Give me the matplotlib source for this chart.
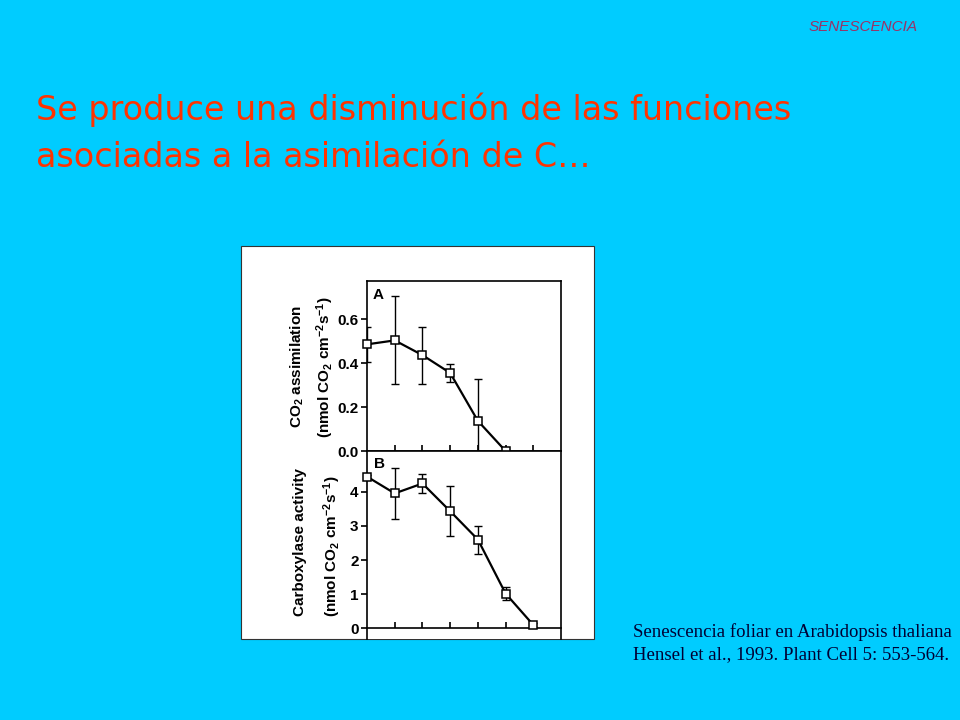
import numpy as np
import matplotlib
matplotlib.use("Agg")
import matplotlib.pyplot as plt
from matplotlib.patches import Rectangle

# ---- data ----
days_a = [0, 1, 2, 3, 4, 5]
co2_assim = [0.485, 0.503, 0.436, 0.355, 0.137, 0.0]
co2_err = [0.08, 0.20, 0.13, 0.04, 0.19, 0.0]

days_b = [0, 1, 2, 3, 4, 5, 6]
carbox = [4.44, 3.95, 4.24, 3.43, 2.60, 1.02, 0.10]
carbox_err = [0.05, 0.75, 0.27, 0.73, 0.41, 0.18, 0.05]

yticks_a = [0.0, 0.2, 0.4, 0.6]
yticks_b = [0, 1, 2, 3, 4]

BG = "#00CCFF"
TITLE_COL = "#FF3300"

plt.rcParams["mathtext.fontset"] = "custom"
plt.rcParams["mathtext.rm"] = "Liberation Sans:bold"
plt.rcParams["mathtext.bf"] = "Liberation Sans:bold"
plt.rcParams["mathtext.default"] = "bf"

fig = plt.figure(figsize=(9.6, 7.2), dpi=100, facecolor=BG)

# slide texts
fig.text(0.956, 0.962, "SENESCENCIA", ha="right", va="center", fontsize=11,
         style="italic", family="Liberation Sans", color="#993366")
fig.text(0.038, 0.833, "Se produce una disminución de las funciones",
         fontsize=24, color=TITLE_COL, family="DejaVu Sans", va="baseline")
fig.text(0.038, 0.768, "asociadas a la asimilación de C…",
         fontsize=24, color=TITLE_COL, family="DejaVu Sans", va="baseline")
fig.text(0.659, 0.1153, "Senescencia foliar en Arabidopsis thaliana",
         fontsize=13.5, family="Liberation Serif", color="#000033", va="baseline")
fig.text(0.659, 0.0847, "Hensel et al., 1993. Plant Cell 5: 553-564.",
         fontsize=13.5, family="Liberation Serif", color="#000033", va="baseline")

# white panel holding the scanned figure
fig.patches.append(Rectangle((0.251, 0.1125), 0.3677, 0.5458, transform=fig.transFigure,
                             facecolor="white", edgecolor="#333333", linewidth=0.8,
                             zorder=-1))

def style_axes(ax, yticks, ylim, fmt):
    ax.set_facecolor("white")
    ax.set_xlim(0, 7)
    ax.set_ylim(*ylim)
    ax.set_xticks([1, 2, 3, 4, 5, 6])
    ax.set_xticklabels([])
    ax.tick_params(axis="x", direction="in", length=4, width=1.2)
    ax.set_yticks(yticks)
    ax.set_yticklabels([fmt.format(v) for v in yticks], fontsize=11,
                       fontweight="bold", family="Liberation Sans")
    ax.tick_params(axis="y", direction="out", length=4, width=1.2, pad=2)
    for s in ax.spines.values():
        s.set_linewidth(1.2)

def draw_series(ax, x, y, err):
    ax.errorbar(x, y, yerr=err, fmt="none", ecolor="black", elinewidth=1.0,
                capsize=3, capthick=1.0)
    ax.plot(x, y, color="black", lw=1.6, marker="s", markersize=6,
            markerfacecolor="white", markeredgecolor="black",
            markeredgewidth=1.1, clip_on=False, zorder=5)

ax_a = fig.add_axes([0.3823, 0.3736, 0.2021, 0.2361])
draw_series(ax_a, days_a, co2_assim, co2_err)
style_axes(ax_a, yticks_a, (0, 0.773), "{:.1f}")
ax_a.text(0.03, 0.915, "A", transform=ax_a.transAxes, fontsize=11,
          fontweight="bold", family="Liberation Sans", va="center")

ax_b = fig.add_axes([0.3823, 0.1125, 0.2021, 0.2611])
draw_series(ax_b, days_b, carbox, carbox_err)
style_axes(ax_b, yticks_b, (-0.31, 5.19), "{:d}")
ax_b.spines["bottom"].set_position(("data", 0))
ax_b.text(0.035, 0.93, "B", transform=ax_b.transAxes, fontsize=11,
          fontweight="bold", family="Liberation Sans", va="center")

# y labels (two lines each)
lab = dict(rotation=90, ha="center", va="center", fontsize=11,
           fontweight="bold", family="Liberation Sans")
fig.text(0.310, 0.491, r"CO$_2$ assimilation", **lab)
fig.text(0.339, 0.490, r"(nmol CO$_2$ cm$^{-2}$s$^{-1}$)", **lab)
fig.text(0.312, 0.247, "Carboxylase activity", **lab)
fig.text(0.346, 0.242, r"(nmol CO$_2$ cm$^{-2}$s$^{-1}$)", **lab)

fig.savefig("out.png", dpi=100, facecolor=BG)
